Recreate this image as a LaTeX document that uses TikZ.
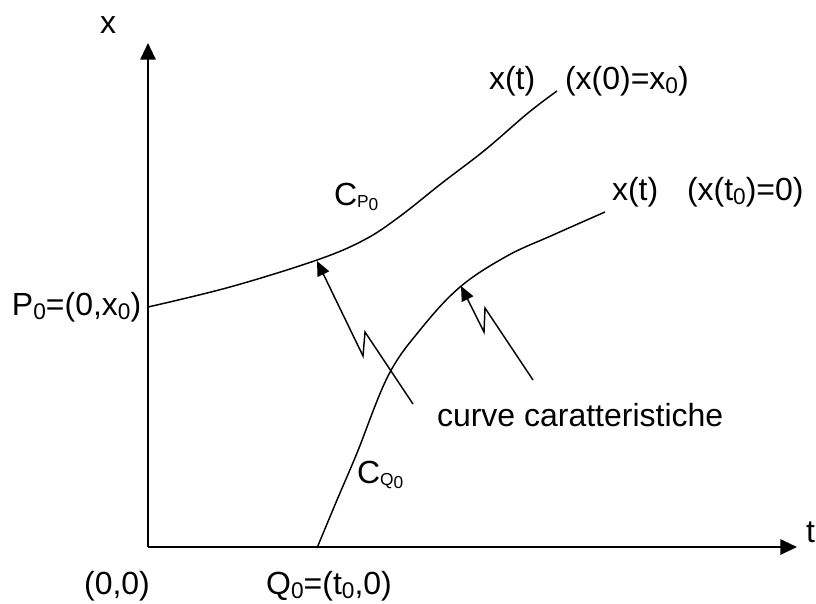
\documentclass[tikz,border=0pt]{standalone}
\usepackage{fontspec}
\setmainfont{Liberation Sans}
\usetikzlibrary{arrows.meta}
\newcommand{\dn}[1]{\raisebox{-3.5pt}{\fontsize{17}{17}\selectfont #1}}
\newcommand{\dnn}[1]{\raisebox{-2pt}{\fontsize{13}{13}\selectfont #1}}
\tikzset{
  lbl/.style={inner sep=0pt, outer sep=0pt, font=\fontsize{24}{28}\selectfont},
  axis/.style={line width=1.5pt, -{Triangle[length=12.5pt,width=11.5pt]}},
  curvepath/.style={line width=1.1pt},
  pointer/.style={line width=1.1pt, -{Triangle[length=11pt,width=9.5pt]}}
}
\begin{document}
\begin{tikzpicture}[x=0.75pt,y=-0.75pt]
\useasboundingbox (0,0) rectangle (816,603);
% axes
\coordinate (O) at (148,547);
\coordinate (Xtip) at (148,43);
\coordinate (Ttip) at (797,547);
\draw[axis] (O) -- (Xtip);
\draw[axis] (O) -- (Ttip);
% curves
\draw[curvepath] plot[smooth, tension=0.6] coordinates {(148,307) (230,287) (317,260) (364,240) (399,217) (442,183) (485,150) (528,113) (557,91)};
\draw[curvepath] plot[smooth, tension=0.6] coordinates {(317,548) (337,500) (357,453) (388,376) (420,330) (460,287) (507,256) (553,235) (605,212)};
% pointer arrows
\coordinate (A1tip) at (317,261);
\coordinate (A1low) at (363,356);
\coordinate (A1high) at (365,332);
\coordinate (A1end) at (413,404);
\coordinate (A2tip) at (461,286);
\coordinate (A2low) at (484,332);
\coordinate (A2high) at (485,308);
\coordinate (A2end) at (533,380);
\draw[pointer] (A1end) -- (A1high) -- (A1low) -- (A1tip);
\draw[pointer] (A2end) -- (A2high) -- (A2low) -- (A2tip);
% labels
\node[lbl, anchor=base west] (xlab) at (100,33) {x};
\node[lbl, anchor=base west] (tlab) at (806,542) {t};
\node[lbl, anchor=base] (orig) at (117,594) {(0,0)};
\node[lbl, anchor=base] (q0) at (329,594) {Q\dn{0}=(t\dn{0},0)};
\node[lbl, anchor=base west] (p0) at (12,315) {P\dn{0}=(0,x\dn{0})};
\node[lbl, anchor=base west] (cp) at (334,205) {C\dnn{P\dnn{0}}};
\node[lbl, anchor=base west] (cq) at (357,483) {C\dnn{Q\dnn{0}}};
\node[lbl, anchor=base west] (xt1) at (489,89) {x(t)};
\node[lbl, anchor=base west] (ic1) at (565,89) {(x(0)=x\dn{0})};
\node[lbl, anchor=base west] (xt2) at (612,200) {x(t)};
\node[lbl, anchor=base west] (ic2) at (687,200) {(x(t\dn{0})=0)};
\node[lbl, anchor=base west] (cc) at (437,426) {curve caratteristiche};
\end{tikzpicture}
\end{document}
